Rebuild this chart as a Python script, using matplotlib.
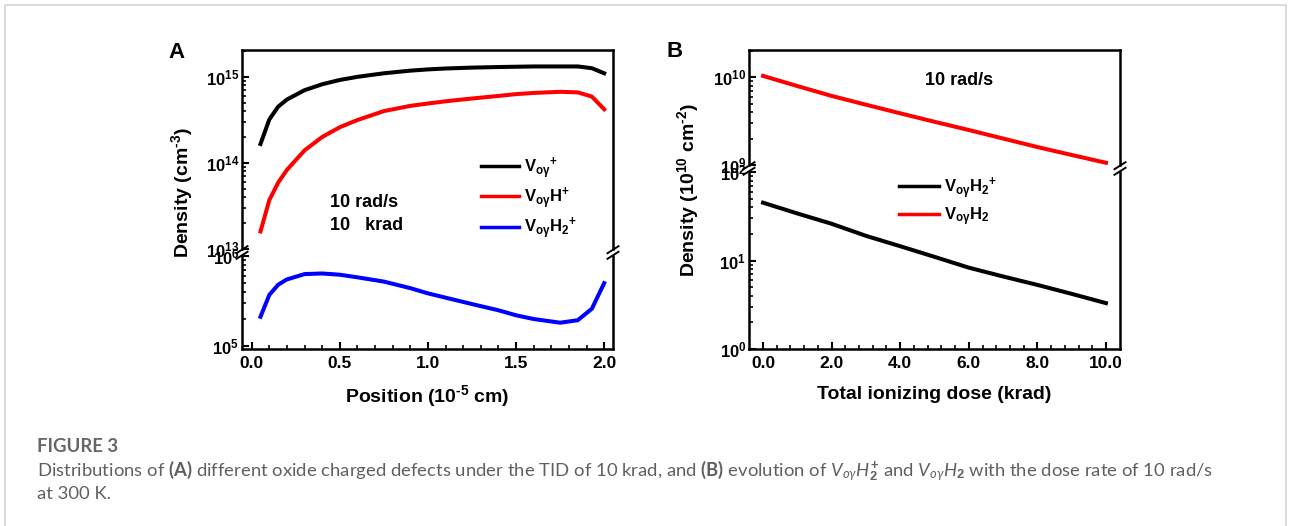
import matplotlib
matplotlib.use("Agg")
import matplotlib.pyplot as plt
from matplotlib.lines import Line2D
from matplotlib.ticker import FixedLocator, FixedFormatter, LogLocator, NullFormatter

plt.rcParams['font.family'] = ['Liberation Sans', 'DejaVu Sans']
plt.rcParams['mathtext.fontset'] = 'custom'
plt.rcParams['mathtext.rm'] = 'Liberation Sans:bold'
plt.rcParams['mathtext.sf'] = 'Liberation Sans:bold'
plt.rcParams['mathtext.bf'] = 'Lato:bold'
plt.rcParams['mathtext.it'] = 'Lato:italic'

# ---------------- data ----------------
# Panel A : distributions vs position (10^-5 cm)
pos_a = [0.05, 0.10, 0.15, 0.20, 0.30, 0.40, 0.50, 0.60, 0.75, 0.90, 1.00, 1.10,
         1.25, 1.40, 1.50, 1.60, 1.75, 1.85, 1.93, 2.00]
v_oy_plus = [1.66e14, 3.2e14, 4.5e14, 5.45e14, 7.0e14, 8.2e14, 9.2e14, 1.0e15, 1.10e15,
             1.18e15, 1.22e15, 1.25e15, 1.28e15, 1.30e15, 1.31e15, 1.32e15, 1.32e15,
             1.32e15, 1.26e15, 1.10e15]
v_oyh_plus = [1.6e13, 3.7e13, 5.9e13, 8.3e13, 1.4e14, 2.0e14, 2.6e14, 3.15e14, 4.0e14,
              4.6e14, 4.9e14, 5.2e14, 5.6e14, 6.0e14, 6.3e14, 6.5e14, 6.7e14, 6.6e14,
              5.9e14, 4.2e14]
v_oyh2_plus = [2.12e5, 3.7e5, 4.8e5, 5.5e5, 6.3e5, 6.4e5, 6.2e5, 5.8e5, 5.2e5, 4.4e5,
               3.85e5, 3.45e5, 2.93e5, 2.5e5, 2.2e5, 2.0e5, 1.82e5, 1.94e5, 2.6e5, 5.0e5]

# Panel B : evolution vs total ionizing dose (krad)
dose_b = [0, 1, 2, 3, 4, 5, 6, 7, 8, 9, 10]
b_voyh2 = [1.03e10, 7.9e9, 6.1e9, 4.85e9, 3.87e9, 3.1e9, 2.5e9, 2.0e9, 1.6e9, 1.3e9, 1.06e9]
b_voyh2_plus = [45, 34, 26, 19, 14.5, 11, 8.3, 6.6, 5.3, 4.2, 3.3]

# ticks
xticks_a = [0.0, 0.5, 1.0, 1.5, 2.0]
xticklabels_a = ["0.0", "0.5", "1.0", "1.5", "2.0"]
yticks_a_up = [1e13, 1e14, 1e15]
yticklabels_a_up = [r"$\mathrm{10^{13}}$", r"$\mathrm{10^{14}}$", r"$\mathrm{10^{15}}$"]
yticks_a_lo = [1e5, 1e6]
yticklabels_a_lo = [r"$\mathrm{10^{5}}$", r"$\mathrm{10^{6}}$"]
xticks_b = [0, 2, 4, 6, 8, 10]
xticklabels_b = ["0.0", "2.0", "4.0", "6.0", "8.0", "10.0"]
yticks_b_up = [1e9, 1e10]
yticklabels_b_up = [r"$\mathrm{10^{9}}$", r"$\mathrm{10^{10}}$"]
yticks_b_lo = [1, 10, 100]
yticklabels_b_lo = [r"$\mathrm{10^{0}}$", r"$\mathrm{10^{1}}$", r"$\mathrm{10^{2}}$"]

labels_a = [r"$\mathrm{V_{oγ}{}^{+}}$", r"$\mathrm{V_{oγ}H^{+}}$", r"$\mathrm{V_{oγ}H_{2}{}^{+}}$"]
labels_b = [r"$\mathrm{V_{oγ}H_{2}{}^{+}}$", r"$\mathrm{V_{oγ}H_{2}}$"]

# ---------------- layout helpers ----------------
W, H = 1290, 526
fig = plt.figure(figsize=(W / 100, H / 100), dpi=100)


def fx(px):
    return px / W


def fy(py):
    return 1 - py / H


def rect(l, t, r, b):
    return [fx(l), fy(b), fx(r) - fx(l), fy(t) - fy(b)]


axA1 = fig.add_axes(rect(242, 50, 613, 249))
axA2 = fig.add_axes(rect(242, 256, 613, 349))
axB1 = fig.add_axes(rect(749, 50, 1120, 165))
axB2 = fig.add_axes(rect(749, 172, 1120, 349))

LW = 2.9
lA1, = axA1.plot(pos_a, v_oy_plus, color='black', lw=LW)
lA2, = axA1.plot(pos_a, v_oyh_plus, color='red', lw=LW)
lA3, = axA2.plot(pos_a, v_oyh2_plus, color='blue', lw=LW)
lB2, = axB1.plot(dose_b, b_voyh2, color='red', lw=LW)
lB1, = axB2.plot(dose_b, b_voyh2_plus, color='black', lw=LW)

TICKFS = 12.5
for ax in (axA1, axA2, axB1, axB2):
    ax.set_yscale('log')
    for s in ax.spines.values():
        s.set_linewidth(1.8)
    ax.tick_params(which='both', direction='in', top=False, right=False)
    ax.tick_params(which='major', length=5, width=1.5, pad=2)
    ax.tick_params(which='minor', length=3, width=1.2)
    ax.yaxis.set_minor_locator(LogLocator(base=10, subs=range(2, 10)))
    ax.yaxis.set_minor_formatter(NullFormatter())

axA1.set_xlim(-0.055, 2.05)
axA2.set_xlim(-0.055, 2.05)
axB1.set_xlim(-0.41, 10.41)
axB2.set_xlim(-0.41, 10.41)
axA1.set_ylim(1e13, 2.05e15)
axA2.set_ylim(9.3e4, 1e6)
axB1.set_ylim(1e9, 2.03e10)
axB2.set_ylim(1, 100)

for up, lo in ((axA1, axA2), (axB1, axB2)):
    up.spines['bottom'].set_visible(False)
    lo.spines['top'].set_visible(False)
    up.tick_params(axis='x', which='both', bottom=False, labelbottom=False)

axA2.xaxis.set_major_locator(FixedLocator(xticks_a))
axA2.xaxis.set_major_formatter(FixedFormatter(xticklabels_a))
axA2.xaxis.set_minor_locator(FixedLocator([i * 0.1 for i in range(21)]))
axB2.xaxis.set_major_locator(FixedLocator(xticks_b))
axB2.xaxis.set_major_formatter(FixedFormatter(xticklabels_b))
axB2.xaxis.set_minor_locator(FixedLocator([i * 0.4 for i in range(26)]))
for ax in (axA2, axB2):
    ax.tick_params(axis='x', which='major', pad=5)
    for t in ax.get_xticklabels():
        t.set_fontweight('bold')
        t.set_fontsize(TICKFS)

for ax, tk, tl in ((axA1, yticks_a_up, yticklabels_a_up), (axA2, yticks_a_lo, yticklabels_a_lo),
                   (axB1, yticks_b_up, yticklabels_b_up), (axB2, yticks_b_lo, yticklabels_b_lo)):
    ax.yaxis.set_major_locator(FixedLocator(tk))
    ax.yaxis.set_major_formatter(FixedFormatter(tl))
    for t in ax.get_yticklabels():
        t.set_fontsize(TICKFS - 0.5)


# break marks
def break_mark(xp, yp):
    for dy in (-2.8, 2.8):
        fig.add_artist(Line2D([fx(xp - 5.5), fx(xp + 5.5)], [fy(yp + dy + 3.5), fy(yp + dy - 3.5)],
                              color='black', lw=1.4, transform=fig.transFigure))


for xp in (242, 613):
    break_mark(xp, 252.5)
for xp in (749, 1120):
    break_mark(xp, 168.5)

# legends
legA = axA1.legend([lA1, lA2, lA3], labels_a, loc='upper left',
                   bbox_to_anchor=(fx(481), fy(155)), bbox_transform=fig.transFigure,
                   frameon=False, handlelength=2.3, handletextpad=0.3, labelspacing=0.25,
                   borderpad=0, borderaxespad=0, prop={'size': 12, 'weight': 'bold'})
for h in legA.legend_handles:
    h.set_linewidth(2.5)
legB = axB2.legend([lB1, lB2], labels_b, loc='upper left',
                   bbox_to_anchor=(fx(899), fy(175)), bbox_transform=fig.transFigure,
                   frameon=False, handlelength=2.4, handletextpad=0.3, labelspacing=0.27,
                   borderpad=0, borderaxespad=0, prop={'size': 12, 'weight': 'bold'})
for h in legB.legend_handles:
    h.set_linewidth(2.5)

# annotations
fig.text(fx(330), fy(207), "10 rad/s", fontsize=13, fontweight='bold', ha='left', va='baseline')
fig.text(fx(330), fy(230), "10   krad", fontsize=13, fontweight='bold', ha='left', va='baseline')
fig.text(fx(959), fy(85), "10 rad/s", fontsize=13, fontweight='bold', ha='center', va='baseline')
fig.text(fx(168), fy(58), "A", fontsize=16, fontweight='bold', ha='left', va='baseline')
fig.text(fx(667), fy(57), "B", fontsize=16, fontweight='bold', ha='left', va='baseline')

# axis labels
fig.text(fx(427), fy(402), r"Position (10$^{\mathrm{\text{-}5}}$ cm)", fontsize=14, fontweight='bold',
         ha='center', va='baseline')
fig.text(fx(934), fy(399), "Total ionizing dose (krad)", fontsize=14, fontweight='bold',
         ha='center', va='baseline')
fig.text(fx(182), fy(193), r"Density (cm$^{\mathrm{\text{-}3}}$)", fontsize=14, fontweight='bold',
         rotation=90, ha='center', va='center')
fig.text(fx(688), fy(190), r"Density (10$^{\mathrm{10}}$ cm$^{\mathrm{\text{-}2}}$)", fontsize=14,
         fontweight='bold', rotation=90, ha='center', va='center')

# border (open at bottom)
bc = '#d4d4d4'
fig.add_artist(Line2D([fx(4.5), fx(4.5), fx(1285.5), fx(1285.5)], [0, fy(5), fy(5), 0],
                      color=bc, lw=1.2, transform=fig.transFigure))

# caption
cap_col = '#606060'
CAPFS = 13.3
fig.text(fx(37), fy(452), "FIGURE 3", fontsize=CAPFS, fontweight='bold', color='#666666',
         family=['Lato', 'DejaVu Sans'], ha='left', va='baseline')
fig.text(fx(37), fy(476),
         r"Distributions of $\mathbf{(A)}$ different oxide charged defects under the TID of 10 krad, "
         r"and $\mathbf{(B)}$ evolution of $\mathit{V_{oγ}H_{2}^{+}}$ and $\mathit{V_{oγ}H_{2}}$ "
         r"with the dose rate of 10 rad/s",
         fontsize=CAPFS, color=cap_col, family=['Lato', 'DejaVu Sans'], ha='left', va='baseline')
fig.text(fx(37), fy(499), "at 300 K.", fontsize=CAPFS, color=cap_col,
         family=['Lato', 'DejaVu Sans'], ha='left', va='baseline')

fig.savefig("out.png", dpi=100)
